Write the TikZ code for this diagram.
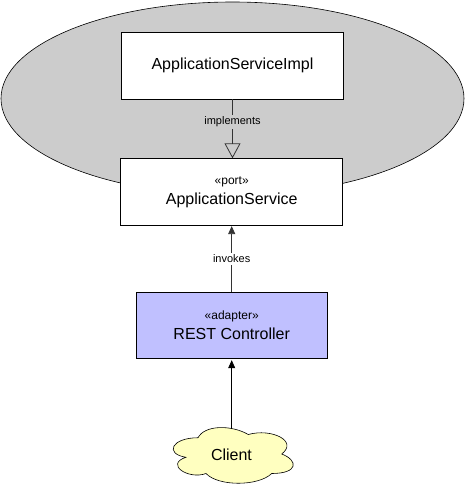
\documentclass[tikz,border=0pt]{standalone}
\usepackage{fontspec}
\setmainfont{Liberation Sans}
\usetikzlibrary{shapes.geometric,arrows.meta}
\definecolor{ellgray}{HTML}{CCCCCC}
\definecolor{adapterblue}{HTML}{C0C0FF}
\definecolor{clientyellow}{HTML}{FFFFC0}
\definecolor{linegray}{HTML}{333333}
\tikzset{
  classbox/.style={draw=black, fill=white, minimum width=222pt, minimum height=67pt, inner sep=0pt, align=center, font=\fontsize{16}{20}\selectfont, line width=0.8pt},
  lbl/.style={font=\fontsize{11}{13}\selectfont, inner sep=2pt},
  conn/.style={draw=linegray, line width=0.8pt},
  cloudline/.style={draw=black, fill=clientyellow, line width=0.6pt},
}
\begin{document}
\begin{tikzpicture}[x=1pt,y=-1pt]
\useasboundingbox (0,0) rectangle (465,485);
\node[draw=black, fill=ellgray, ellipse, minimum width=463pt, minimum height=193pt, inner sep=0pt, line width=0.6pt] (hex) at (232.5,98.5) {};
\node[classbox] (impl) at (232.5,65.5) {ApplicationServiceImpl};
\node[classbox] (port) at (231.7,192.2) {{\fontsize{12}{14}\selectfont «port»}\\ApplicationService};
\node[classbox, fill=adapterblue, minimum width=190.7pt, minimum height=66pt] (rest) at (231.7,325.3) {{\fontsize{12}{14}\selectfont «adapter»}\\REST Controller};
% cloud outline (draw.io cloud shape)
\begin{scope}[shift={(164.5,421.5)}, x=134pt, y=-65pt]
\path[cloudline] (0.25,0.25)
  .. controls (0.05,0.25) and (0,0.5) .. (0.16,0.55)
  .. controls (0,0.66) and (0.18,0.9) .. (0.31,0.8)
  .. controls (0.4,1) and (0.7,1) .. (0.8,0.8)
  .. controls (1,0.8) and (1,0.6) .. (0.875,0.5)
  .. controls (1,0.3) and (0.8,0.1) .. (0.625,0.2)
  .. controls (0.5,0.05) and (0.3,0.05) .. (0.25,0.25) -- cycle;
\end{scope}
\node[font=\fontsize{16}{18}\selectfont, inner sep=0pt, minimum width=134pt, minimum height=65pt] (client) at (231.5,455) {Client};
\coordinate (ctop) at ([yshift=-6.5pt]client.north -| rest.south);
\draw[conn, -{Triangle[open, length=15pt, width=16pt]}] (impl.south) -- node[lbl, fill=ellgray, pos=0.38] (implbl) {implements} (impl.south |- port.north);
\draw[conn, -{Triangle[length=8pt, width=7pt]}] (rest.north) -- node[lbl, fill=white] (invlbl) {invokes} (rest.north |- port.south);
\draw[line width=0.8pt, draw=black, shorten >=1.5pt, -{Triangle[length=8pt, width=7pt]}] (ctop) -- (rest.south);
\end{tikzpicture}
\end{document}
